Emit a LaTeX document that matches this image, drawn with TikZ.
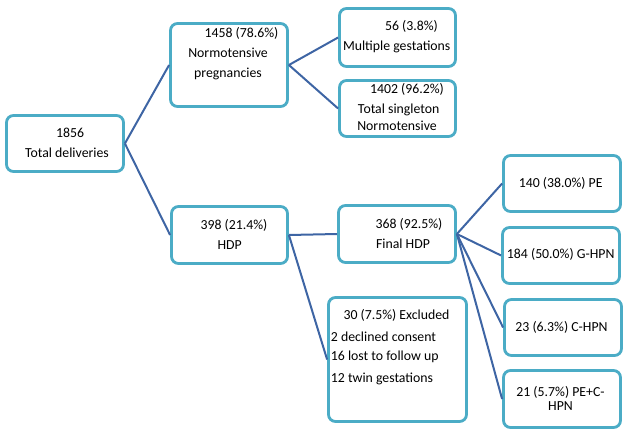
\documentclass[tikz,border=0pt]{standalone}
\usepackage{fontspec}
\setmainfont{Carlito}

\definecolor{cadre}{RGB}{75,172,198}
\definecolor{trait}{RGB}{62,101,164}

\begin{document}
\begin{tikzpicture}[x=1pt, y=-1pt,
		boite/.style={draw=cadre, line width=2.8pt, rounded corners=7pt, fill=white},
		lien/.style={draw=trait, line width=2pt},
		texte/.style={inner sep=0pt, font=\fontsize{13.8pt}{16pt}\selectfont}]
		
		% Cadre de la figure
		\useasboundingbox (0,0) rectangle (629,441);
		
		% Boites (nom / centre / largeur / hauteur)
		\foreach \nom/\x/\y/\w/\h in {
			total/65/143.5/117/56, normo/229/65/117/83,
			multi/397.5/37.5/116/58, single/397.5/108.5/116/56,
			hdp/229.5/235/116/57, final/397/234/117/57,
			excl/397.5/359.5/138/124, pe/562/183.5/117/56,
			ghpn/561/255.5/117/56, chpn/563/327.5/117/56,
			pechpn/562/399/117/57}{
			\node[boite, minimum width=\w pt, minimum height=\h pt] (\nom) at (\x,\y) {};
		}
		
		% Liens entre les boites
		\foreach \a/\b in {
			total/normo, total/hdp, normo/multi, normo/single,
			hdp/final, hdp/excl, final/pe, final/ghpn, final/chpn, final/pechpn}{
			\draw[lien] (\a.east) -- (\b.west);
		}
		
		% Textes
		\node[texte] (t-total1) at (70,133) {1856};
		\node[texte] (t-total2) at (67,153) {Total deliveries};
		\node[texte] (t-normo1) at (241.5,33) {1458 (78.6\%)};
		\node[texte] (t-normo2) at (228,53) {Normotensive};
		\node[texte] (t-normo3) at (228,74) {pregnancies};
		\node[texte] (t-multi1) at (411.5,26) {56 (3.8\%)};
		\node[texte] (t-multi2) at (396.7,47) {Multiple gestations};
		\node[texte] (t-single1) at (407,89) {1402 (96.2\%)};
		\node[texte] (t-single2) at (398.7,110) {Total singleton};
		\node[texte] (t-single3) at (397,126) {Normotensive};
		\node[texte] (t-hdp1) at (234,225) {398 (21.4\%)};
		\node[texte] (t-hdp2) at (229.7,245) {HDP};
		\node[texte] (t-final1) at (409,224) {368 (92.5\%)};
		\node[texte] (t-final2) at (403,244) {Final HDP};
		\node[texte] (t-pe) at (560.7,183) {140 (38.0\%) PE};
		\node[texte] (t-ghpn) at (560.7,254) {184 (50.0\%) G-HPN};
		\node[texte] (t-chpn) at (561.5,327) {23 (6.3\%) C-HPN};
		\node[texte] (t-pechpn1) at (560.5,392) {21 (5.7\%) PE+C-};
		\node[texte] (t-pechpn2) at (560.5,406) {HPN};
		
		% Exclusions (alignees a gauche)
		\node[texte] (t-excl1) at (396.5,315) {30 (7.5\%) Excluded};
		\node[texte, anchor=west] (t-excl2) at (330.7,336.7) {2 declined consent};
		\node[texte, anchor=west] (t-excl3) at (330.7,357.3) {16 lost to follow up};
		\node[texte, anchor=west] (t-excl4) at (330.7,379.3) {12 twin gestations};
		
	\end{tikzpicture}
\end{document}
